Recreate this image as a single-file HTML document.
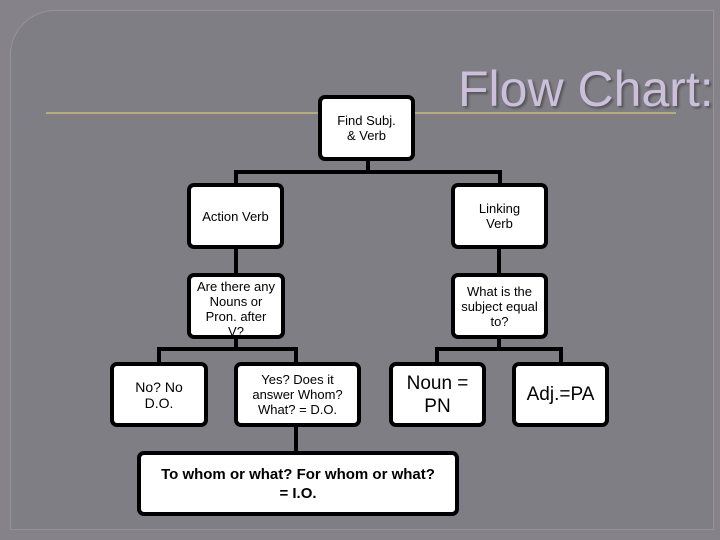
<!DOCTYPE html>
<html><head><style>
body{margin:0;width:720px;height:540px;overflow:hidden;background:#858389;font-family:"Liberation Sans",sans-serif;position:relative}
.panel{position:absolute;left:10px;top:10px;width:702px;height:518px;background:#7f7e85;border-top-left-radius:45px;border:1px solid #95939a}
.b{position:absolute;background:#fff;border:4px solid #000;border-radius:7px;box-sizing:border-box;display:flex;align-items:center;justify-content:center;text-align:center;font-size:13px;line-height:15px;color:#000}
.l{position:absolute;background:#000}
.t{position:absolute;left:458px;top:60px;font-size:50px;color:#cbbfdb;text-shadow:2px 2px 2px #555;letter-spacing:0px}
.hr{position:absolute;left:46px;top:112px;width:630px;height:2px;background:#b5aa80}
</style></head><body>
<div class="panel"></div>
<div class="hr"></div>
<div class="t">Flow Chart:</div>
<!-- connectors -->
<div class="l" style="left:366px;top:158px;width:4px;height:16px"></div>
<div class="l" style="left:234px;top:170px;width:268px;height:4px"></div>
<div class="l" style="left:234px;top:170px;width:4px;height:16px"></div>
<div class="l" style="left:498px;top:170px;width:4px;height:16px"></div>
<div class="l" style="left:234px;top:246px;width:4px;height:30px"></div>
<div class="l" style="left:497px;top:246px;width:4px;height:30px"></div>
<div class="l" style="left:234px;top:336px;width:4px;height:14px"></div>
<div class="l" style="left:157px;top:347px;width:141px;height:4px"></div>
<div class="l" style="left:157px;top:347px;width:4px;height:17px"></div>
<div class="l" style="left:294px;top:347px;width:4px;height:105px"></div>
<div class="l" style="left:497px;top:336px;width:4px;height:14px"></div>
<div class="l" style="left:435px;top:347px;width:128px;height:4px"></div>
<div class="l" style="left:435px;top:347px;width:4px;height:17px"></div>
<div class="l" style="left:559px;top:347px;width:4px;height:17px"></div>
<!-- boxes -->
<div class="b" style="left:318px;top:95px;width:97px;height:66px">Find Subj.<br>&amp; Verb</div>
<div class="b" style="left:187px;top:183px;width:97px;height:66px">Action Verb</div>
<div class="b" style="left:451px;top:183px;width:97px;height:66px">Linking<br>Verb</div>
<div class="b" style="left:187px;top:273px;width:98px;height:66px;align-items:flex-start;padding-top:2px">Are there any<br>Nouns or<br>Pron. after<br>V?</div>
<div class="b" style="left:451px;top:273px;width:97px;height:66px">What is the<br>subject equal<br>to?</div>
<div class="b" style="left:110px;top:362px;width:98px;height:65px;font-size:14px;line-height:16px">No? No<br>D.O.</div>
<div class="b" style="left:234px;top:362px;width:127px;height:65px">Yes? Does it<br>answer Whom?<br>What? = D.O.</div>
<div class="b" style="left:389px;top:362px;width:97px;height:65px;font-size:19px;line-height:23px">Noun =<br>PN</div>
<div class="b" style="left:512px;top:362px;width:97px;height:65px;font-size:19px">Adj.=PA</div>
<div class="b" style="left:137px;top:451px;width:322px;height:65px;font-size:15px;line-height:19px;font-weight:bold">To whom or what? For whom or what?<br>= I.O.</div>
</body></html>
